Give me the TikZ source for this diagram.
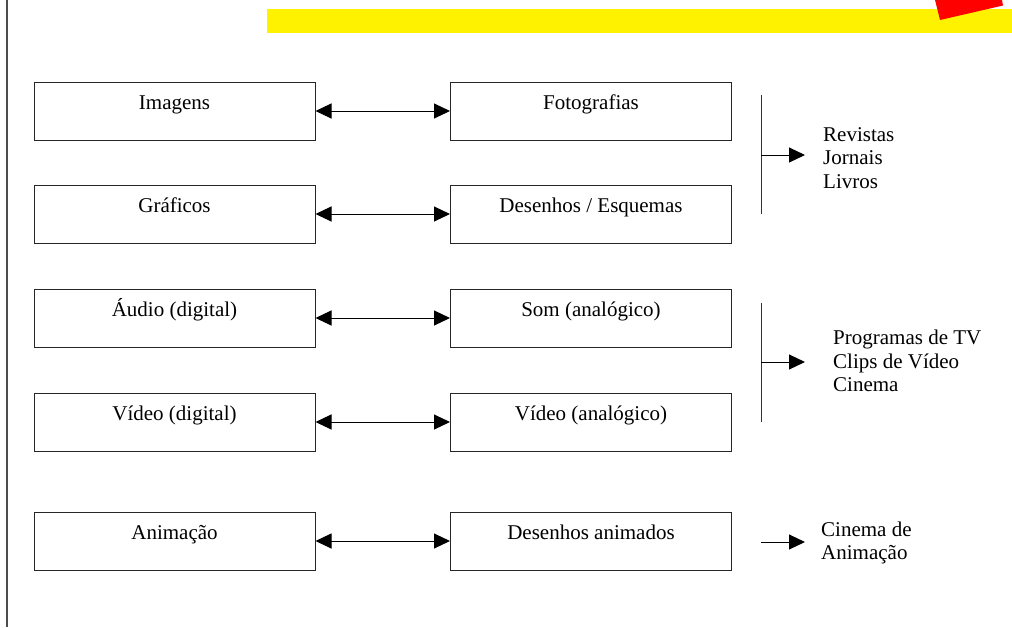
\documentclass[tikz,border=0pt]{standalone}
\usepackage{fontspec}
\setmainfont{Liberation Serif}
\usetikzlibrary{arrows.meta,calc}
\begin{document}
\begin{tikzpicture}[x=1pt,y=-1pt,
  box/.style={draw=black!85,line width=1pt,minimum width=281pt,minimum height=58pt,inner sep=0pt},
  lbl/.style={anchor=base,inner sep=0pt,font=\fontsize{21}{23.5}\selectfont},
  side/.style={anchor=west,align=left,inner sep=0pt,font=\fontsize{21}{23.5}\selectfont},
  dbl/.style={line width=1pt,{Triangle[length=16pt,width=15pt]}-{Triangle[length=16pt,width=15pt]}},
  arr/.style={line width=1pt,-{Triangle[length=16pt,width=15pt]}},
  brk/.style={line width=1pt,black!80}]
\useasboundingbox (0,0) rectangle (1012,627);
% decorations
\fill[yellow] (267,9) rectangle (1012,33);
\fill[red] (935,0) -- (940,20) -- (1003,5.5) -- (1002,0) -- cycle;
\draw[line width=1.5pt,black!70] (7,0) -- (7,627);
% boxes
\node[box] (imagens) at (174.5,111) {};
\node[box] (fotografias) at (591,111) {};
\node[box] (graficos) at (174.5,214) {};
\node[box] (desenhos) at (591,214) {};
\node[box] (audio) at (174.5,318) {};
\node[box] (som) at (591,318) {};
\node[box] (videod) at (174.5,422) {};
\node[box] (videoa) at (591,422) {};
\node[box] (animacao) at (174.5,541) {};
\node[box] (desanim) at (591,541) {};
% labels
\node[lbl] (t1) at ($(imagens.north)+(0,27.5)$) {Imagens};
\node[lbl] (t2) at ($(fotografias.north)+(0,27.5)$) {Fotografias};
\node[lbl] (t3) at ($(graficos.north)+(0,28)$) {Gráficos};
\node[lbl] (t4) at ($(desenhos.north)+(0,28)$) {Desenhos / Esquemas};
\node[lbl] (t5) at ($(audio.north)+(0,28)$) {Áudio (digital)};
\node[lbl] (t6) at ($(som.north)+(0,28)$) {Som (analógico)};
\node[lbl] (t7) at ($(videod.north)+(0,28)$) {Vídeo (digital)};
\node[lbl] (t8) at ($(videoa.north)+(0,28)$) {Vídeo (analógico)};
\node[lbl] (t9) at ($(animacao.north)+(0,28)$) {Animação};
\node[lbl] (t10) at ($(desanim.north)+(0,28)$) {Desenhos animados};
% double arrows
\draw[dbl] (imagens.east) -- (fotografias.west);
\draw[dbl] (graficos.east) -- (desenhos.west);
\draw[dbl] (audio.east) -- (som.west);
\draw[dbl] (videod.east) -- (videoa.west);
\draw[dbl] (animacao.east) -- (desanim.west);
% bracket 1
\coordinate (b1t) at (761,95);
\coordinate (b1b) at (761,214);
\coordinate (b1m) at (761,155);
\coordinate (b1e) at (805,155);
\draw[brk] (b1t) -- (b1b);
\draw[arr] (b1m) -- (b1e);
\node[side] (s1) at (823,158) {Revistas\\Jornais\\Livros};
% bracket 2
\coordinate (b2t) at (761,303);
\coordinate (b2b) at (761,422);
\coordinate (b2m) at (761,362);
\coordinate (b2e) at (805,362);
\draw[brk] (b2t) -- (b2b);
\draw[arr] (b2m) -- (b2e);
\node[side] (s2) at (833,361) {Programas de TV\\Clips de Vídeo\\Cinema};
% bracket 3
\coordinate (b3s) at (761,542);
\coordinate (b3e) at (805,542);
\draw[arr] (b3s) -- (b3e);
\node[side] (s3) at (821,543) {Cinema de\\Animação};
\end{tikzpicture}
\end{document}
